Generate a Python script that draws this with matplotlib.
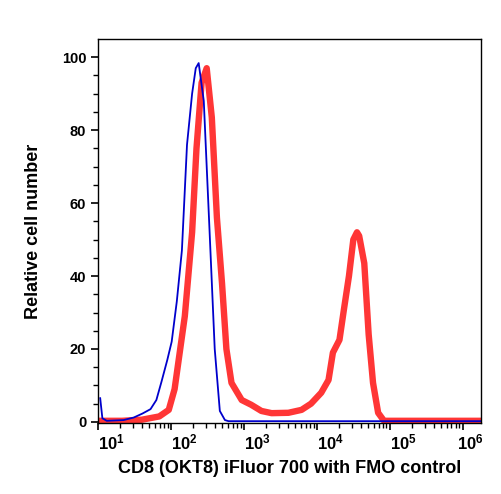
import matplotlib
matplotlib.use("Agg")
import matplotlib.pyplot as plt
import numpy as np

plt.rcParams['font.family'] = ['Liberation Sans', 'DejaVu Sans']
plt.rcParams['mathtext.fontset'] = 'custom'
plt.rcParams['mathtext.bf'] = 'Liberation Sans:bold'
plt.rcParams['mathtext.rm'] = 'Liberation Sans:bold'

# log10 of fluorescence intensity
fmo_log = [1.03, 1.06, 1.12, 1.35, 1.49, 1.61, 1.72, 1.80, 1.87, 1.95, 2.01, 2.08,
           2.15, 2.22, 2.29, 2.34, 2.38, 2.45, 2.53, 2.60, 2.67, 2.74, 2.79, 6.25]
fmo_val = [6.5, 1.0, 0.3, 0.5, 1.2, 2.3, 3.5, 6, 11, 17, 22, 33,
           47, 76, 90, 97, 98.4, 88, 52, 20, 3, 0.5, 0.2, 0.2]

cd8_log = [1.03, 1.33, 1.60, 1.84, 1.97, 2.05, 2.19, 2.29, 2.35, 2.42, 2.49, 2.56,
           2.63, 2.70, 2.76, 2.83, 2.97, 3.10, 3.24, 3.38, 3.61, 3.79, 3.92, 4.06,
           4.16, 4.22, 4.31, 4.37, 4.44, 4.50, 4.55, 4.58, 4.65, 4.71, 4.77, 4.84,
           4.92, 6.25]
cd8_val = [0.3, 0.3, 0.6, 1.5, 3.3, 9, 29, 52, 75, 93, 97, 83.5,
           56, 38, 20, 10.7, 6, 4.7, 3, 2.4, 2.5, 3.3, 5, 8,
           11.5, 19, 22.5, 30.7, 40, 50, 52, 51, 43.5, 24, 10.7, 2.5,
           0.3, 0.3]

decades = [1, 2, 3, 4, 5, 6]

fig = plt.figure(figsize=(5.02, 4.94), dpi=100)
ax = fig.add_axes([98 / 502, 1 - 423 / 494, 383 / 502, 384 / 494])

ax.plot(10 ** np.array(cd8_log), cd8_val, color='#ff3636', lw=4.6, solid_joinstyle='round')
ax.plot(10 ** np.array(fmo_log), fmo_val, color='#0000cc', lw=1.3)

ax.set_xscale('log')
ax.set_xlim(10 ** 1.02, 10 ** 6.25)
ax.set_ylim(-0.3, 105)

ax.set_xticks([10.0 ** d for d in decades])
minor_x = [m * 10.0 ** d for d in range(1, 7) for m in range(2, 10)]
ax.set_xticks([v for v in minor_x if v < 10 ** 6.25], minor=True)
labels = [r'$\mathbf{10^{%d}}$' % d for d in decades]
# last label is nudged left so it stays under the frame, as in the original
ax.set_xticklabels(labels[:-1] + [''], fontsize=12)
for lab in ax.get_xticklabels():
    lab.set_horizontalalignment('left')
ax.annotate(labels[-1], xy=(10.0 ** decades[-1], 0), xycoords=('data', 'axes fraction'),
            xytext=(-4.5, -6.5), textcoords='offset points', ha='left', va='top', fontsize=12)

ax.set_yticks([0, 20, 40, 60, 80, 100])
ax.set_yticks(np.arange(0, 105, 5), minor=True)
ax.tick_params(axis='y', labelsize=10.5)
for lab in ax.get_yticklabels():
    lab.set_fontweight('bold')
ax.tick_params(which='major', length=5, width=1.2, direction='out')
ax.tick_params(which='minor', length=3.5, width=1.0, direction='out')
ax.tick_params(axis='x', which='minor', length=3.5, width=1.0, bottom=True)
ax.tick_params(axis='x', which='major', pad=2)

for s in ax.spines.values():
    s.set_linewidth(1.0)

ax.set_xlabel('CD8 (OKT8) iFluor 700 with FMO control', fontsize=13, fontweight='bold', labelpad=5)
ax.set_ylabel('Relative cell number', fontsize=13, fontweight='bold', labelpad=14)

fig.savefig('out.png', dpi=100)
